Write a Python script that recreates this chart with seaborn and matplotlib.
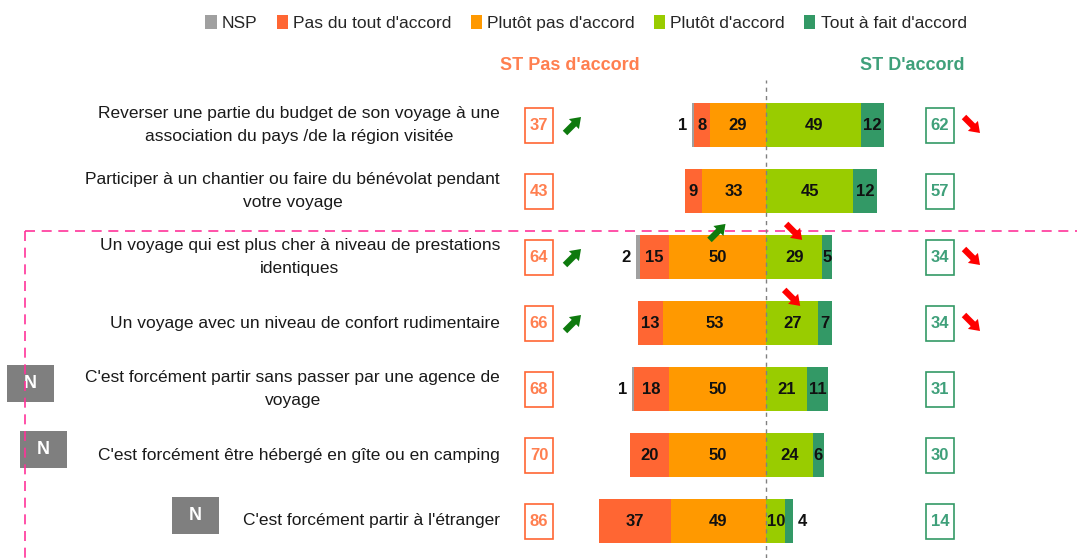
import matplotlib
matplotlib.use("Agg")
import matplotlib.pyplot as plt
import matplotlib.transforms as mtransforms
from matplotlib.patches import Patch, Rectangle
import seaborn as sns
import pandas as pd
import numpy as np

# ---------------- data ----------------
categories = [
    "Reverser une partie du budget de son voyage à une\nassociation du pays /de la région visitée",
    "Participer à un chantier ou faire du bénévolat pendant\nvotre voyage",
    "Un voyage qui est plus cher à niveau de prestations\nidentiques",
    "Un voyage avec un niveau de confort rudimentaire",
    "C'est forcément partir sans passer par une agence de\nvoyage",
    "C'est forcément être hébergé en gîte ou en camping",
    "C'est forcément partir à l'étranger",
]
nsp = [1, 0, 2, 0, 1, 0, 0]
pas_du_tout = [8, 9, 15, 13, 18, 20, 37]
plutot_pas = [29, 33, 50, 53, 50, 50, 49]
plutot = [49, 45, 29, 27, 21, 24, 10]
tout_a_fait = [12, 12, 5, 7, 11, 6, 4]
st_pas = [37, 43, 64, 66, 68, 70, 86]
st_accord = [62, 57, 34, 34, 31, 30, 14]
trend_pas = ["up", "", "up", "up", "", "", ""]
trend_accord = ["down", "", "down", "down", "", "", ""]
# arrows drawn over a segment: (row, segment, direction)
segment_trends = [(2, "plutot_pas", "up"), (2, "plutot", "down"), (3, "plutot", "down")]
new_badge = [False, False, False, False, True, True, True]

legend_labels = ["NSP", "Pas du tout d'accord", "Plutôt pas d'accord",
                 "Plutôt d'accord", "Tout à fait d'accord"]
colors = ["#A0A0A0", "#FF6633", "#FF9900", "#99CC00", "#339966"]

# ---------------- setup ----------------
sns.set_style("white")
plt.rcParams["font.family"] = ["Liberation Sans", "DejaVu Sans"]

W, H = 1077, 558
fig = plt.figure(figsize=(W / 100, H / 100), dpi=100)
ax = fig.add_axes([0, 0, 1, 1])

df = pd.DataFrame({
    "cat": categories,
    "nsp_cum": -(np.array(nsp) + np.array(pas_du_tout) + np.array(plutot_pas)),
    "pas_cum": -(np.array(pas_du_tout) + np.array(plutot_pas)),
    "pp_cum": -np.array(plutot_pas),
    "ta_cum": np.array(plutot) + np.array(tout_a_fait),
    "pa_cum": np.array(plutot),
})

bw = 0.67
for col, c in [("nsp_cum", colors[0]), ("pas_cum", colors[1]), ("pp_cum", colors[2]),
               ("ta_cum", colors[4]), ("pa_cum", colors[3])]:
    sns.barplot(data=df, x=col, y="cat", order=categories, color=c, width=bw,
                orient="h", errorbar=None, linewidth=0, saturation=1, ax=ax)

# axis scale: center at pixel 766, 1.94 px per point
cx, ppu = 766, 1.94
ax.set_xlim(-cx / ppu, (W - cx) / ppu)
y0, rstep = 125, 66
ax.set_ylim((H - y0) / rstep, (0 - y0) / rstep)
ax.axis("off")

n = len(categories)
rows = np.arange(n)

# center dashed line
ax.axvline(0, ymin=0, ymax=1 - 80 / H, color="#808080", lw=1, ls=(0, (3, 3)), zorder=3)

lab_kw = dict(fontsize=12, fontweight="bold", color="#111111", va="center", zorder=5)
off = 5 / ppu
for i in rows:
    left_pp = plutot_pas[i]
    left_pas = pas_du_tout[i]
    ax.text(-left_pp / 2, i, str(plutot_pas[i]), ha="center", **lab_kw)
    ax.text(-left_pp - left_pas / 2, i, str(left_pas), ha="center", **lab_kw)
    if nsp[i] > 0:
        ax.text(-left_pp - left_pas - nsp[i] - off, i, str(nsp[i]), ha="right", **lab_kw)
    ax.text(plutot[i] / 2, i, str(plutot[i]), ha="center", **lab_kw)
    if tout_a_fait[i] >= 5:
        ax.text(plutot[i] + tout_a_fait[i] / 2, i, str(tout_a_fait[i]), ha="center", **lab_kw)
    else:
        ax.text(plutot[i] + tout_a_fait[i] + off, i, str(tout_a_fait[i]), ha="left", **lab_kw)

# blended transform: x in axes fraction, y in data
tr = mtransforms.blended_transform_factory(ax.transAxes, ax.transData)

# category labels
for i in rows:
    ax.text(500 / W, i, categories[i], transform=tr, ha="right", va="center",
            multialignment="center", fontsize=12.5, color="#1A1A1A", linespacing=1.65)

# N badges
badge_x = [None, None, None, None, 7, 20, 172]
for i in rows:
    if new_badge[i]:
        bx = badge_x[i] / W
        ax.add_patch(Rectangle((bx, i - 0.37), 47 / W, 0.56, transform=tr,
                               fc="#7F7F7F", ec="none", zorder=5))
        ax.text(bx + 23 / W, i - 0.09, "N", transform=tr, ha="center", va="center",
                fontsize=13, fontweight="bold", color="white", zorder=6)

# boxed totals
bwid, bhgt = 28 / W, 35 / rstep
for i in rows:
    for xc, val, ec, tc in [(539, st_pas[i], "#FF6633", "#FF7F50"),
                            (940, st_accord[i], "#339966", "#3FA07A")]:
        ax.add_patch(Rectangle((xc / W - bwid / 2, i - bhgt / 2), bwid, bhgt,
                               transform=tr, fc="white", ec=ec, lw=1.2, zorder=4))
        ax.text(xc / W, i, str(val), transform=tr, ha="center", va="center",
                fontsize=12, fontweight="bold", color=tc, zorder=5)

arrow_col = {"up": "#0E7A0E", "down": "#FF0000"}


def draw_arrow(x, y, d, transform, half_px=8):
    # tip offset from the anchor (x, y) then tail via offset points
    sgn = 1 if d == "up" else -1
    tip_t = transform + mtransforms.ScaledTranslation(
        half_px / 100, sgn * half_px / 100, fig.dpi_scale_trans)
    pts = 2 * half_px * 0.72
    ax.annotate("", xy=(x, y), xycoords=tip_t,
                xytext=(-pts, -sgn * pts), textcoords="offset points",
                arrowprops=dict(arrowstyle="simple,head_length=0.6,head_width=0.85,tail_width=0.38",
                                color=arrow_col[d], lw=0, shrinkA=0, shrinkB=0,
                                mutation_scale=12),
                zorder=7)


for i in rows:
    if trend_pas[i]:
        draw_arrow(573 / W, i, trend_pas[i], tr)
    if trend_accord[i]:
        draw_arrow(972 / W, i, trend_accord[i], tr)

seg_mid = {
    "plutot_pas": lambda i: -plutot_pas[i] / 2,
    "plutot": lambda i: plutot[i] / 2,
}
for i, seg, d in segment_trends:
    draw_arrow(seg_mid[seg](i), i - 0.38, d, ax.transData)

# headers
ax.text(570 / W, (65 - y0) / rstep, "ST Pas d'accord", transform=tr, ha="center",
        va="center", fontsize=13, fontweight="bold", color="#FF7F50")
ax.text(912 / W, (65 - y0) / rstep, "ST D'accord", transform=tr, ha="center",
        va="center", fontsize=13, fontweight="bold", color="#3FA07A")

# pink dashed frame
ytop = (231 - y0) / rstep
ax.plot([25 / W, 1.0], [ytop, ytop], transform=tr, color="#FF3399", lw=1.2,
        ls=(0, (6, 4)), clip_on=False)
ax.plot([25 / W, 25 / W], [ytop, (H - y0) / rstep], transform=tr, color="#FF3399",
        lw=1.2, ls=(0, (6, 4)), clip_on=False, zorder=6)

# legend
handles = [Patch(facecolor=c, edgecolor="none") for c in colors]
fig.legend(handles, legend_labels, loc="center", bbox_to_anchor=(586 / W, 1 - 23 / H),
           ncol=5, frameon=False, fontsize=12.5, handlelength=0.65, handleheight=0.9,
           handletextpad=0.3, columnspacing=1.1)

fig.savefig("out.png", dpi=100)
